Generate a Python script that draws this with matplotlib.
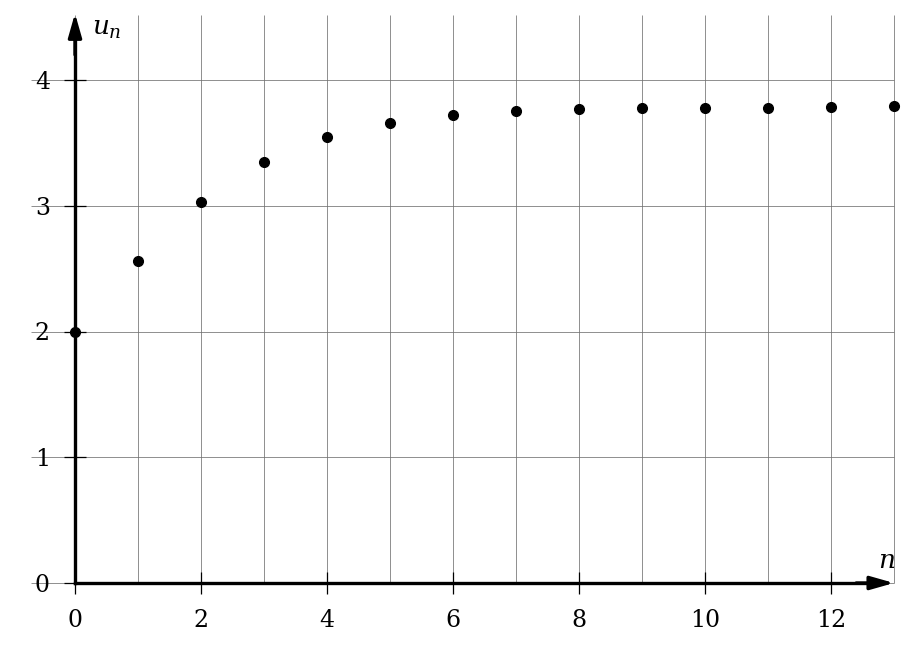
import matplotlib
matplotlib.use("Agg")
import matplotlib.pyplot as plt

# values
n = [0, 1, 2, 3, 4, 5, 6, 7, 8, 9, 10, 11, 12, 13]
u = [2.0, 2.56, 3.03, 3.35, 3.545, 3.655, 3.72, 3.755, 3.77, 3.78, 3.78, 3.78, 3.785, 3.79]
xticks = [0, 2, 4, 6, 8, 10, 12]
yticks = [0, 1, 2, 3, 4]

plt.rcParams['font.family'] = ['DejaVu Serif']
plt.rcParams['mathtext.fontset'] = 'dejavuserif'

fig = plt.figure(figsize=(9.1, 6.48), dpi=100)
ax = fig.add_axes([0, 0, 1, 1])
ax.set_xlim(-75 / 63, 835 / 63)
ax.set_ylim(-65 / 125.75, 583 / 125.75)

# grille
grid_kw = dict(color='#707070', lw=0.55, zorder=1)
ax.vlines(range(0, 14), 0, 4.52, **grid_kw)
ax.hlines(range(0, 5), -0.7, 13, **grid_kw)

# axes avec fleches
for s in ['top', 'right']:
    ax.spines[s].set_visible(False)
ax.spines['left'].set_position(('data', 0))
ax.spines['bottom'].set_position(('data', 0))
ax.spines['left'].set_bounds(0, 4.4)
ax.spines['bottom'].set_bounds(0, 12.8)
for s in ['left', 'bottom']:
    ax.spines[s].set_linewidth(2.4)
    ax.spines[s].set_zorder(3)
fleche = dict(arrowstyle='-|>,head_length=0.95,head_width=0.27', lw=2.4,
              color='black', mutation_scale=15, shrinkA=0, shrinkB=0)
ax.annotate('', xy=(13, 0), xytext=(12.4, 0), arrowprops=fleche)
ax.annotate('', xy=(0, 4.53), xytext=(0, 4.2), arrowprops=fleche)

ax.set_xticks(xticks)
ax.set_yticks(yticks)
ax.tick_params(direction='inout', length=16, width=0.9, labelsize=17)
ax.tick_params(axis='x', pad=11)
ax.tick_params(axis='y', pad=10)

ax.plot(n, u, 'o', color='black', ms=7, zorder=4, clip_on=False)

ax.text(0.27, 4.41, r'$u_n$', fontsize=19, va='center', ha='left')
ax.text(12.75, 0.18, r'$n$', fontsize=19, va='center', ha='left')

fig.savefig('out.png', dpi=100)
